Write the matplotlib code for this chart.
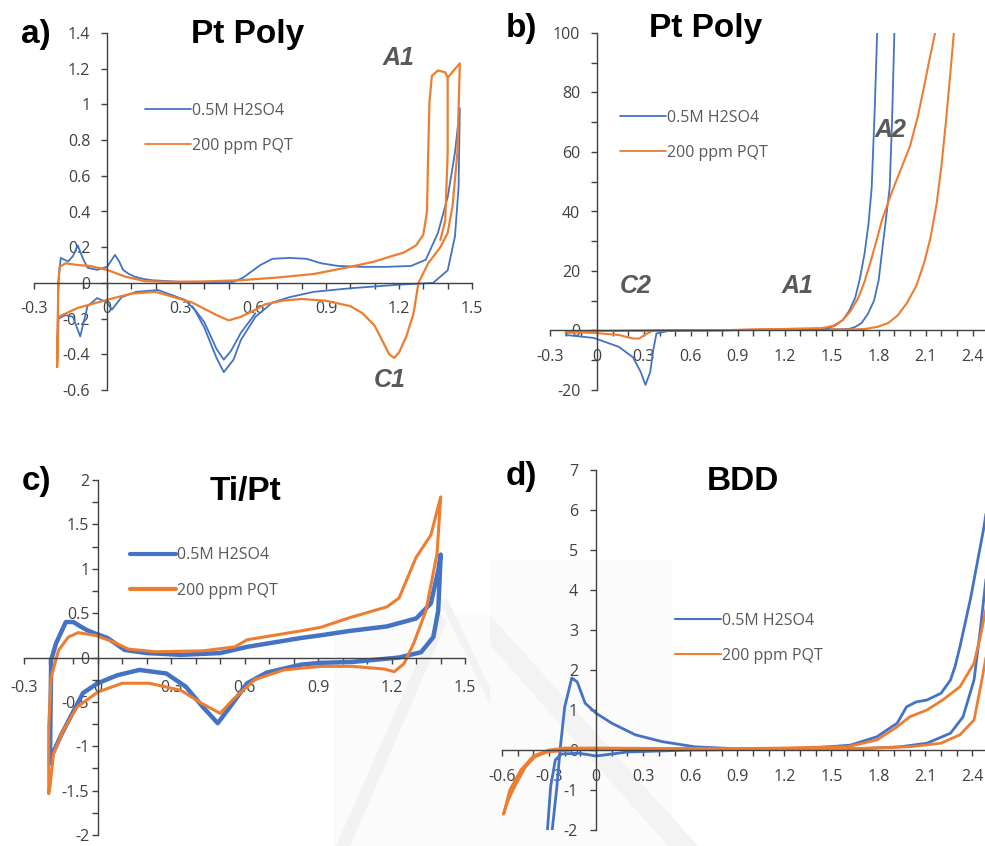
import numpy as np
import matplotlib
matplotlib.use("Agg")
import matplotlib.pyplot as plt
from matplotlib.ticker import MultipleLocator, FuncFormatter
from matplotlib.patches import Polygon

BLUE = "#4472C4"
ORANGE = "#ED7D31"
labels = ["0.5M H2SO4", "200 ppm PQT"]

# a) Pt Poly, narrow window
a_blue_x = [-0.205, -0.2, -0.19, -0.16, -0.14, -0.12, -0.1, -0.08, -0.04, 0.0, 0.02, 0.033, 0.05, 0.066,
            0.09, 0.115, 0.15, 0.185, 0.3, 0.45, 0.52, 0.56, 0.6, 0.63, 0.68, 0.75, 0.82, 0.88, 0.95, 1.05,
            1.15, 1.25, 1.31, 1.36, 1.40, 1.43, 1.45,
            1.445, 1.43, 1.40, 1.34, 1.2, 1.0, 0.85, 0.75, 0.68, 0.61, 0.55, 0.52, 0.48, 0.45, 0.40, 0.36,
            0.32, 0.21, 0.12, 0.06, 0.02, 0.0, -0.04, -0.08, -0.11, -0.14, -0.17, -0.2, -0.205]
a_blue_y = [-0.45, 0.0, 0.14, 0.12, 0.15, 0.21, 0.14, 0.085, 0.073, 0.09, 0.13, 0.157, 0.12, 0.073,
            0.05, 0.034, 0.022, 0.015, 0.006, 0.005, 0.006, 0.03, 0.07, 0.10, 0.135, 0.14, 0.135, 0.11,
            0.095, 0.09, 0.09, 0.095, 0.13, 0.28, 0.48, 0.73, 0.98,
            0.54, 0.26, 0.07, 0.0, -0.01, -0.03, -0.05, -0.08, -0.11, -0.19, -0.32, -0.43, -0.50, -0.42,
            -0.25, -0.15, -0.095, -0.04, -0.05, -0.08, -0.15, -0.11, -0.085, -0.13, -0.30, -0.19, -0.18,
            -0.2, -0.45]
a_blue2_x = [0.61, 0.55, 0.51, 0.48, 0.45, 0.40, 0.35]
a_blue2_y = [-0.17, -0.28, -0.38, -0.43, -0.37, -0.22, -0.13]

a_orange_x = [-0.205, -0.2, -0.195, -0.17, -0.12, -0.07, 0.0, 0.075, 0.155, 0.25, 0.4, 0.55, 0.7, 0.85,
              1.0, 1.1, 1.17, 1.22, 1.27, 1.30, 1.315, 1.32, 1.325, 1.335, 1.36, 1.39, 1.40, 1.45,
              1.44, 1.42, 1.40, 1.37, 1.32, 1.28, 1.26, 1.23, 1.2, 1.18, 1.16, 1.13, 1.1, 1.05, 1.0, 0.9,
              0.8, 0.72, 0.65, 0.61, 0.55, 0.50, 0.45, 0.35, 0.2, 0.1, 0.0, -0.12, -0.2, -0.205]
a_orange_y = [-0.47, 0.0, 0.09, 0.11, 0.10, 0.095, 0.073, 0.035, 0.01, 0.006, 0.008, 0.015, 0.03, 0.05,
              0.09, 0.12, 0.15, 0.17, 0.21, 0.27, 0.4, 0.73, 1.01, 1.16, 1.19, 1.18, 1.15, 1.23,
              0.73, 0.43, 0.28, 0.2, 0.11, 0.0, -0.17, -0.3, -0.39, -0.42, -0.40, -0.32, -0.24, -0.17,
              -0.13, -0.10, -0.09, -0.10, -0.12, -0.15, -0.19, -0.21, -0.18, -0.11, -0.05, -0.06, -0.095,
              -0.14, -0.19, -0.47]
a_orange2_x = [1.40, 1.40, 1.39, 1.37]
a_orange2_y = [1.15, 0.73, 0.35, 0.24]

# b) Pt Poly, wide window
b_blue_fwd_x = [-0.2, 0.0, 0.4, 0.8, 1.2, 1.5, 1.61, 1.65, 1.69, 1.73, 1.77, 1.80, 1.82, 1.845, 1.87,
                1.885, 1.90]
b_blue_fwd_y = [-0.8, -0.2, 0.0, 0.1, 0.4, 0.3, 0.5, 1.2, 2.5, 5.5, 10, 17, 26, 37, 48, 70, 100]
b_blue_rev_x = [1.79, 1.775, 1.755, 1.735, 1.71, 1.68, 1.65, 1.61, 1.57, 1.52, 1.46, 1.2, 0.9, 0.6,
                0.45, 0.38, 0.36, 0.34, 0.31, 0.28, 0.23, 0.14, -0.02, -0.2]
b_blue_rev_y = [100, 75, 48, 36, 26, 17.5, 11, 6.5, 3.5, 1.6, 0.5, 0.3, 0.1, 0.0, -0.2, -1, -6.5, -14,
                -18.3, -14, -9, -5.5, -2.5, -1.5]
b_orange_fwd_x = [-0.2, 0.0, 0.4, 0.8, 1.2, 1.4, 1.6, 1.71, 1.79, 1.86, 1.92, 1.98, 2.04, 2.09, 2.13,
                  2.17, 2.20, 2.23, 2.255, 2.28]
b_orange_fwd_y = [-0.3, -0.1, 0.0, 0.1, 0.5, 0.6, 0.3, 0.5, 1.2, 2.5, 5, 9.2, 15, 22.7, 31, 42.6, 55,
                  70.5, 85, 100]
b_orange_rev_x = [2.16, 2.12, 2.09, 2.05, 2.0, 1.94, 1.88, 1.82, 1.785, 1.75, 1.71, 1.67, 1.62, 1.57,
                  1.51, 1.44, 1.2, 0.8, 0.45, 0.36, 0.31, 0.27, 0.23, 0.14, -0.02, -0.2]
b_orange_rev_y = [100, 90, 82, 72, 62, 54, 46, 37, 30, 23.5, 16.5, 11, 6.5, 3.5, 1.6, 0.8, 0.5, 0.1,
                  0.0, 0.0, -1.3, -2.7, -2.7, -1.5, -0.8, -0.5]

# c) Ti/Pt
c_blue_x = [-0.195, -0.19, -0.17, -0.13, -0.1, -0.07, -0.045, -0.01, 0.04, 0.11, 0.2, 0.34, 0.5, 0.61,
            0.83, 0.91, 1.03, 1.18, 1.30, 1.36, 1.39, 1.40, 1.39, 1.37, 1.32, 1.23, 1.04, 0.91, 0.83, 0.69,
            0.61, 0.55, 0.49, 0.43, 0.36, 0.28, 0.17, 0.08, 0.0, -0.06, -0.145, -0.19, -0.195]
c_blue_y = [-1.19, -0.03, 0.16, 0.40, 0.40, 0.35, 0.31, 0.27, 0.22, 0.085, 0.05, 0.03, 0.05, 0.12,
            0.22, 0.25, 0.30, 0.35, 0.44, 0.61, 0.98, 1.16, 0.53, 0.23, 0.06, 0.0, -0.05, -0.06, -0.08,
            -0.17, -0.29, -0.52, -0.74, -0.56, -0.33, -0.18, -0.14, -0.2, -0.29, -0.40, -0.85, -1.12, -1.19]
c_orange_x = [-0.2, -0.2, -0.19, -0.16, -0.12, -0.08, -0.01, 0.06, 0.125, 0.235, 0.43, 0.56, 0.61, 0.83,
              0.91, 1.03, 1.18, 1.23, 1.30, 1.36, 1.40, 1.385, 1.34, 1.29, 1.25, 1.21, 1.17, 1.04, 0.91,
              0.76, 0.64, 0.55, 0.50, 0.42, 0.34, 0.21, 0.10, 0.0, -0.085, -0.14, -0.18, -0.195, -0.2]
c_orange_y = [-1.53, -0.78, -0.22, 0.08, 0.23, 0.28, 0.25, 0.18, 0.095, 0.065, 0.075, 0.12, 0.2, 0.30,
              0.34, 0.45, 0.57, 0.67, 1.13, 1.38, 1.81, 1.17, 0.53, 0.16, -0.07, -0.16, -0.13, -0.1, -0.1,
              -0.14, -0.25, -0.48, -0.63, -0.51, -0.37, -0.29, -0.29, -0.39, -0.56, -0.82, -1.08, -1.46,
              -1.53]

# d) BDD
d_blue_x = [-0.28, -0.25, -0.23, -0.2, -0.155, -0.12, -0.07, 0.0, 0.10, 0.25, 0.42, 0.63, 0.9, 1.3, 1.62,
            1.79, 1.92, 1.98, 2.04, 2.11, 2.2, 2.26, 2.29, 2.32, 2.355, 2.39, 2.43, 2.47, 2.49,
            2.49, 2.45, 2.41, 2.34, 2.26, 2.11, 1.94, 1.73, 1.2, 0.6, 0.2, 0.1, 0.0, -0.11, -0.22, -0.26,
            -0.29, -0.31]
d_blue_y = [-2.0, -0.92, 0.0, 1.08, 1.8, 1.7, 1.17, 0.92, 0.67, 0.38, 0.21, 0.08, 0.03, 0.03, 0.12,
            0.33, 0.67, 1.08, 1.2, 1.25, 1.42, 1.75, 2.1, 2.58, 3.2, 3.83, 4.67, 5.5, 6.0,
            4.4, 3.0, 1.75, 0.83, 0.42, 0.17, 0.08, 0.04, 0.02, 0.0, -0.05, -0.1, -0.15, -0.08, -0.1,
            -0.25, -0.92, -2.0]
d_orange_x = [-0.59, -0.55, -0.48, -0.4, -0.3, -0.2, 0.0, 0.4, 0.8, 1.2, 1.4, 1.6, 1.79, 1.92, 2.0, 2.11,
              2.21, 2.32, 2.41, 2.45, 2.49,
              2.49, 2.46, 2.41, 2.32, 2.2, 2.0, 1.6, 1.0, 0.4, -0.1, -0.31, -0.39, -0.45, -0.52, -0.56,
              -0.59]
d_orange_y = [-1.6, -1.0, -0.5, -0.15, 0.0, 0.05, 0.05, 0.04, 0.03, 0.05, 0.07, 0.08, 0.25, 0.58, 0.83,
              1.0, 1.25, 1.58, 2.17, 2.83, 3.6,
              2.4, 1.75, 0.75, 0.38, 0.17, 0.08, 0.03, 0.02, 0.02, 0.02, -0.05, -0.17, -0.42, -0.92, -1.25,
              -1.6]

W, H = 985, 846
fig = plt.figure(figsize=(W / 100, H / 100), dpi=100)
tick_font = {"family": "Open Sans", "size": 11.5}


def fx(x):
    return x / W


def fy(y):
    return 1 - y / H


def px_axes(x0, y_top, x1, y_bot):
    return fig.add_axes([fx(x0), fy(y_bot), (x1 - x0) / W, (y_bot - y_top) / H])


def style(ax, xlim, ylim, ymaj, ymin, ypad, xpad):
    ax.set_xlim(*xlim)
    ax.set_ylim(*ylim)
    for s in ["top", "right"]:
        ax.spines[s].set_visible(False)
    for s in ["left", "bottom"]:
        ax.spines[s].set_position(("data", 0))
        ax.spines[s].set_color("#404040")
        ax.spines[s].set_linewidth(1.0)
    ax.xaxis.set_major_locator(MultipleLocator(0.3))
    ax.xaxis.set_minor_locator(MultipleLocator(0.1))
    ax.yaxis.set_major_locator(MultipleLocator(ymaj))
    if ymin:
        ax.yaxis.set_minor_locator(MultipleLocator(ymin))
    fmt = FuncFormatter(lambda v, p: "%g" % (round(v, 6) + 0.0))
    ax.xaxis.set_major_formatter(fmt)
    ax.yaxis.set_major_formatter(fmt)
    ax.tick_params(which="both", direction="out", length=4, width=1, color="#404040",
                   labelcolor="#404040")
    ax.tick_params(axis="y", pad=ypad)
    ax.tick_params(axis="x", pad=xpad)
    for lab in ax.get_xticklabels() + ax.get_yticklabels():
        lab.set_fontfamily(tick_font["family"])
        lab.set_fontsize(tick_font["size"])
    ax.patch.set_alpha(0)


def add_legend(ax, x, y, lw):
    lines = ax.get_lines()[:2]
    leg = ax.legend(lines, labels, loc="center left", bbox_to_anchor=(fx(x), fy(y)),
                    bbox_transform=fig.transFigure, frameon=False, borderpad=0, borderaxespad=0,
                    handlelength=2.9, handletextpad=0.05, labelspacing=1.2,
                    prop={"family": "Open Sans", "size": 11.5}, labelcolor="#595959")
    for h in leg.get_lines():
        h.set_linewidth(lw)


def ftext(x, y, s, size, style="normal", color="black", ha="left"):
    fig.text(fx(x), fy(y), s, fontsize=size, fontweight="bold", fontstyle=style,
             family="Liberation Sans", color=color, ha=ha, va="baseline")


def shade(pts, color):
    fig.add_artist(Polygon([(fx(x), fy(y)) for x, y in pts], closed=True, transform=fig.transFigure,
                           facecolor=color, edgecolor="none", zorder=-1))


# faint watermark behind the lower panels
shade([(333, 615), (490, 615), (490, 846), (333, 846)], "#fbfbfb")
shade([(336, 846), (350, 846), (447, 622), (439, 613)], "#f2f2f2")
shade([(439, 600), (447, 598), (490, 688), (490, 704)], "#f2f2f2")
shade([(490, 560), (672, 560), (672, 846), (490, 846)], "#fbfbfb")
shade([(490, 615), (490, 645), (668, 846), (698, 846)], "#f3f3f3")

style_line = dict(solid_joinstyle="round", solid_capstyle="round")

# a)
ax = px_axes(34, 33, 472, 390)
ax.plot(a_blue_x, a_blue_y, color=BLUE, lw=1.3, **style_line)
ax.plot(a_orange_x, a_orange_y, color=ORANGE, lw=1.6, **style_line)
ax.plot(a_blue2_x, a_blue2_y, color=BLUE, lw=1.3, **style_line)
ax.plot(a_orange2_x, a_orange2_y, color=ORANGE, lw=1.6, **style_line)
style(ax, (-0.3, 1.5), (-0.6, 1.4), 0.2, None, 8, 9)
add_legend(ax, 145, 128.5, 1.3)

# b)
ax = px_axes(550, 33, 985, 390)
ax.plot(b_blue_fwd_x, b_blue_fwd_y, color=BLUE, lw=1.3, **style_line)
ax.plot(b_orange_fwd_x, b_orange_fwd_y, color=ORANGE, lw=1.5, **style_line)
ax.plot(b_blue_rev_x, b_blue_rev_y, color=BLUE, lw=1.3, **style_line)
ax.plot(b_orange_rev_x, b_orange_rev_y, color=ORANGE, lw=1.5, **style_line)
style(ax, (-0.3, 2.479), (-20, 100), 20, 10, 8, 9)
add_legend(ax, 620, 135.5, 1.3)

# c)
ax = px_axes(24.2, 480, 465.2, 835)
ax.plot(c_blue_x, c_blue_y, color=BLUE, lw=3.2, **style_line)
ax.plot(c_orange_x, c_orange_y, color=ORANGE, lw=2.2, **style_line)
style(ax, (-0.3, 1.5), (-2, 2), 0.5, 0.25, 2, 12)
add_legend(ax, 130, 573, 3.0)

# d)
ax = px_axes(502, 470, 985, 830)
ax.plot(d_blue_x, d_blue_y, color=BLUE, lw=2.0, **style_line)
ax.plot(d_orange_x, d_orange_y, color=ORANGE, lw=2.0, **style_line)
style(ax, (-0.6, 2.48), (-2, 7), 1, None, 9, 10)
add_legend(ax, 675, 638.5, 1.5)

# panel letters and titles
ftext(21, 43, "a)", 24)
ftext(506, 37, "b)", 24)
ftext(22, 490, "c)", 24)
ftext(506, 485, "d)", 24)
ftext(248, 43, "Pt Poly", 24, ha="center")
ftext(706, 37, "Pt Poly", 24, ha="center")
ftext(245, 500, "Ti/Pt", 24, ha="center")
ftext(743, 490, "BDD", 24, ha="center")

# peak annotations
gray = "#595959"
ftext(398, 65, "A1", 18, "italic", gray, "center")
ftext(390, 387, "C1", 18, "italic", gray, "center")
ftext(636, 293, "C2", 18, "italic", gray, "center")
ftext(797, 293, "A1", 18, "italic", gray, "center")
ftext(890, 137, "A2", 18, "italic", gray, "center")

fig.savefig("out.png", dpi=100)
